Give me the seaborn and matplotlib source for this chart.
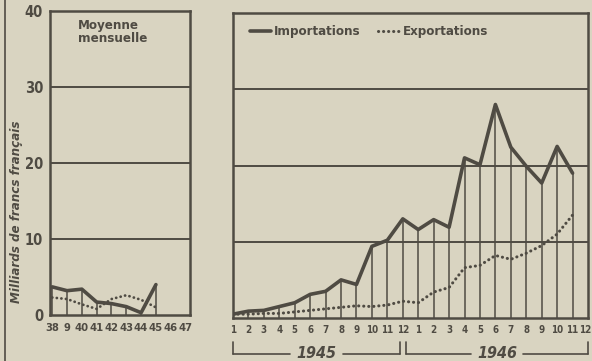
import matplotlib
matplotlib.use("Agg")
import matplotlib.pyplot as plt
import matplotlib.transforms as mtransforms
from matplotlib.lines import Line2D
import numpy as np
import pandas as pd
import seaborn as sns

# Monthly averages, 1938-1945 (milliards de francs)
avg_years = [38, 39, 40, 41, 42, 43, 44, 45]
avg_imports = [3.7, 3.2, 3.4, 1.7, 1.5, 1.1, 0.3, 4.0]
avg_exports = [2.3, 2.1, 1.4, 0.8, 2.1, 2.6, 2.0, 1.0]
year_ticks = [38, 39, 40, 41, 42, 43, 44, 45, 46, 47]
year_labels = ["38", "9", "40", "41", "42", "43", "44", "45", "46", "47"]

# Monthly figures, January 1945 - November 1946
month_labels = [str(m) for m in range(1, 13)] * 2
monthly_imports = [0.5, 0.9, 1.0, 1.5, 2.0, 3.1, 3.5, 5.0, 4.4, 9.4, 10.2, 13.0,
                   11.6, 12.9, 11.9, 21.0, 20.1, 28.0, 22.4, 19.9, 17.7, 22.5, 19.0]
monthly_exports = [0.5, 0.5, 0.6, 0.6, 0.8, 1.0, 1.2, 1.4, 1.6, 1.5, 1.7, 2.2,
                   2.0, 3.4, 4.0, 6.6, 6.9, 8.2, 7.7, 8.5, 9.5, 11.0, 13.5]
year_names = ["1945", "1946"]
y_ticks = [0, 10, 20, 30, 40]

paper = "#d9d4c1"
ink = "#4f4b43"

sns.set_theme(style="white")
plt.rcParams["font.family"] = ["DejaVu Sans"]
plt.rcParams["font.stretch"] = "condensed"
plt.rcParams["figure.facecolor"] = paper
plt.rcParams["axes.facecolor"] = paper
plt.rcParams["text.color"] = ink

fig = plt.figure(figsize=(5.92, 3.61), dpi=100)
ax_avg = fig.add_axes([50 / 592, 1 - 315 / 361, 140 / 592, 304 / 361])
ax_mon = fig.add_axes([233 / 592, 1 - 318 / 361, 355 / 592, 305 / 361])

dotted = (0, (0.05, 1.6))

def style_axes(ax):
    ax.set_ylim(0, 40)
    for s in ax.spines.values():
        s.set_color(ink)
        s.set_linewidth(1.8)
    for y in (10, 20, 30):
        ax.axhline(y, color=ink, lw=1.4, zorder=1)
    ax.tick_params(axis="both", length=0, colors=ink, pad=5)
    ax.set_xlabel("")
    ax.set_ylabel("")

# Left panel: yearly monthly averages
df_avg = pd.DataFrame({"annee": avg_years, "imp": avg_imports, "exp": avg_exports})
ax_avg.vlines(df_avg["annee"], 0, df_avg["imp"], color=ink, lw=1.1, zorder=2)
sns.lineplot(data=df_avg, x="annee", y="imp", ax=ax_avg, color=ink, lw=2.6, zorder=3)
sns.lineplot(data=df_avg, x="annee", y="exp", ax=ax_avg, color=ink, lw=2.0,
             linestyle=dotted, dash_capstyle="round", zorder=3)
style_axes(ax_avg)
ax_avg.set_xlim(37.85, 47.3)
ax_avg.set_xticks(year_ticks)
ax_avg.set_xticklabels(year_labels, fontsize=8, fontweight="bold")
ax_avg.tick_params(axis="x", pad=6)
ax_avg.set_yticks(y_ticks)
ax_avg.set_yticklabels([str(v) for v in y_ticks], fontsize=10.5, fontweight="bold")
ax_avg.text(0.2, 0.975, "Moyenne\nmensuelle", transform=ax_avg.transAxes,
            ha="left", va="top", fontsize=9.5, fontweight="bold", linespacing=1.0)
fig.text(17 / 592, 1 - 212 / 361, "Milliards de francs français", rotation=90,
         ha="center", va="center", fontsize=9.5, fontweight="bold",
         fontstyle="italic", color=ink)

# Right panel: monthly imports and exports
idx = np.arange(len(monthly_imports))
df_mon = pd.DataFrame({"mois": idx, "imp": monthly_imports, "exp": monthly_exports})
ax_mon.vlines(df_mon["mois"], 0, df_mon["imp"], color=ink, lw=1.1, zorder=2)
sns.lineplot(data=df_mon, x="mois", y="imp", ax=ax_mon, color=ink, lw=2.6, zorder=3,
             label="Importations")
sns.lineplot(data=df_mon, x="mois", y="exp", ax=ax_mon, color=ink, lw=2.2,
             linestyle=dotted, dash_capstyle="round", zorder=3, label="Exportations")
style_axes(ax_mon)
ax_mon.set_xlim(0, 23)
ax_mon.set_xticks(np.arange(24))
ax_mon.set_xticklabels(month_labels, fontsize=7, fontweight="bold")
last = ax_mon.get_xticklabels()[-1]
last.set_transform(last.get_transform() +
                   mtransforms.ScaledTranslation(-3 / 100, 0, fig.dpi_scale_trans))
ax_mon.set_yticks(y_ticks)
ax_mon.set_yticklabels([])
leg = ax_mon.legend(loc="upper left", ncol=2, frameon=False, fontsize=9.5,
                    handlelength=1.6, handletextpad=0.25, columnspacing=1.3,
                    bbox_to_anchor=(0.025, 0.985), borderaxespad=0.2)
for t in leg.get_texts():
    t.set_fontweight("bold")
    t.set_color(ink)

# Year brackets below the month axis
tr = mtransforms.blended_transform_factory(ax_mon.transData, fig.transFigure)
y_line = 1 - 354 / 361
y_top = 1 - 342 / 361
for (x0, x1), name in zip([(0, 10.8), (11.2, 23)], year_names):
    xm = (x0 + x1) / 2
    half = 1.7
    for a, b in [(x0, xm - half), (xm + half, x1)]:
        fig.add_artist(Line2D([a, b], [y_line, y_line], transform=tr, color=ink, lw=1.2))
    for x in (x0, x1):
        fig.add_artist(Line2D([x, x], [y_line, y_top], transform=tr, color=ink, lw=1.2))
    fig.text(xm, y_line, name, transform=tr, ha="center", va="center",
             fontsize=11.5, fontweight="bold", fontstyle="italic", color=ink)

# Page margin rule on the far left
fig.add_artist(Line2D([5 / 592, 5 / 592], [0, 1], transform=fig.transFigure,
                      color=ink, lw=1.2))

fig.savefig("out.png", dpi=100, facecolor=paper)
